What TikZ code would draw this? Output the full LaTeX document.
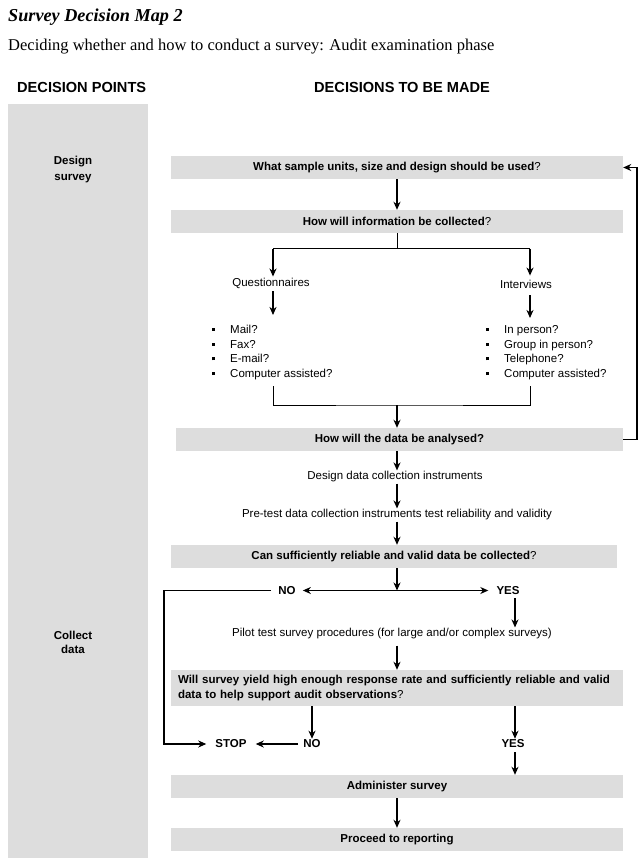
\documentclass[tikz,border=0pt]{standalone}
\usepackage{fontspec}
\setmainfont{Liberation Serif}
\setsansfont{Liberation Sans}
\usetikzlibrary{arrows.meta}
\definecolor{boxgray}{RGB}{221,221,221}
\newcommand{\sqb}{\rule[2.5pt]{3pt}{3pt}}
\newcommand{\bodyfont}{\sffamily\fontsize{11.5}{14}\selectfont}
\tikzset{
 gbox/.style={fill=boxgray, draw=none, minimum height=23pt, inner sep=0pt, font=\bodyfont\bfseries},
 txt/.style={inner sep=1pt, font=\bodyfont},
 lbl/.style={inner sep=1pt, font=\bodyfont\bfseries},
 arr/.style={line width=1.6pt, -{Stealth[length=8pt,width=7pt,inset=2.5pt]}},
 ln/.style={line width=1pt},
 lnarr/.style={line width=1.2pt, -{Stealth[length=8pt,width=7pt,inset=2.5pt]}},
 lnarrb/.style={line width=1.2pt, {Stealth[length=8pt,width=7pt,inset=2.5pt]}-{Stealth[length=8pt,width=7pt,inset=2.5pt]}},
}
\begin{document}
\begin{tikzpicture}[x=1pt,y=-1pt, font=\bodyfont]
\useasboundingbox (0,0) rectangle (639,858);
\fill[boxgray] (8,104) rectangle (148,858);

% titles
\node[anchor=base west, inner sep=0, font=\rmfamily\bfseries\itshape\fontsize{18.2}{20}\selectfont] (title) at (8,22) {Survey Decision Map 2};
\node[anchor=base west, inner sep=0, font=\rmfamily\fontsize{16.5}{18}\selectfont] (sub) at (8,51) {Deciding whether and how to conduct a survey: Audit examination phase};
\node[anchor=base west, inner sep=0, font=\sffamily\bfseries\fontsize{14.6}{16}\selectfont] (hdp) at (17,93) {DECISION POINTS};
\node[anchor=base west, inner sep=0, font=\sffamily\bfseries\fontsize{14.6}{16}\selectfont] (hdm) at (314,93) {DECISIONS TO BE MADE};

% left labels
\node[lbl, align=center, font=\sffamily\bfseries\fontsize{11.5}{16}\selectfont] (ds) at (73,170) {Design\\survey};
\node[lbl, align=center, font=\sffamily\bfseries\fontsize{11.5}{14}\selectfont] (cd) at (73,642) {Collect\\data};

% boxes
\node[gbox, minimum width=452pt] (b1) at (397,167.5) {What sample units, size and design should be used\mdseries?};
\node[gbox, minimum width=452pt] (b2) at (397,221.5) {How will information be collected\mdseries?};
\node[gbox, minimum width=447pt] (b4) at (399.5,439.5) {How will the data be analysed?};
\node[gbox, minimum width=446pt] (b6) at (394,556.5) {Can sufficiently reliable and valid data be collected\mdseries?};
\node[gbox, minimum width=452pt, minimum height=36pt, text width=438pt, align=left, font=\sffamily\bfseries\fontsize{11.5}{15}\selectfont] (b7) at (397,688) {Will survey yield high enough response rate and sufficiently reliable and valid\\data to help support audit observations\mdseries?};
\node[gbox, minimum width=452pt] (b8) at (397,786.5) {Administer survey};
\node[gbox, minimum width=452pt] (b9) at (397,839.5) {Proceed to reporting};

% plain texts
\node[txt] (q) at (271,283) {Questionnaires};
\node[txt] (iv) at (526,284) {Interviews};
\node[anchor=north west, inner sep=0, font=\sffamily\fontsize{11.5}{14.7}\selectfont] (ql) at (212,323)
  {\begin{tabular}{@{}l@{\hspace{15pt}}l@{}}\sqb & Mail?\\ \sqb & Fax?\\ \sqb & E-mail?\\ \sqb & Computer assisted?\end{tabular}};
\node[anchor=north west, inner sep=0, font=\sffamily\fontsize{11.5}{14.7}\selectfont] (il) at (486,323)
  {\begin{tabular}{@{}l@{\hspace{15pt}}l@{}}\sqb & In person?\\ \sqb & Group in person?\\ \sqb & Telephone?\\ \sqb & Computer assisted?\end{tabular}};
\node[txt] (t5) at (395,477) {Design data collection instruments};
\node[txt] (t6) at (397,515) {Pre-test data collection instruments test reliability and validity};
\node[txt] (pilot) at (392,634) {Pilot test survey procedures (for large and/or complex surveys)};
\node[lbl] (no1) at (287,590.5) {NO};
\node[lbl] (yes1) at (508,590.5) {YES};
\node[lbl] (no2) at (312,744) {NO};
\node[lbl] (stop) at (231,744) {STOP};
\node[lbl] (yes2) at (513,744) {YES};

% coordinates
\coordinate (sp1) at (397,249);
\coordinate (qa) at (273,249);
\coordinate (ia) at (530,249);
\coordinate (qe) at (273,386);
\coordinate (ie) at (530,386);
\coordinate (jm) at (397,405);
\coordinate (fb) at (637,439.5);
\coordinate (sp2) at (397,590.5);
\coordinate (c1) at (164,590.5);
\coordinate (ya) at (515,598);
\coordinate (yb) at (515,752);

% connectors
\draw[arr] (b1.south -| sp1) -- (b2.north -| sp1);
\draw[ln] (b2.south -| sp1) -- (sp1);
\draw[ln] (qa) -- (ia);
\draw[arr] (qa) -- (qa |- q.north);
\draw[arr] (ia) -- ([yshift=3pt]ia |- iv.north);
\draw[arr] ([yshift=-2pt]q.south -| qa) -- ([yshift=8pt]qa |- ql.north);
\draw[arr] ([yshift=-6pt]ia |- iv.south) -- ([yshift=5pt]ia |- il.north);
\draw[ln] (qe) |- (jm) -| (ie);
\draw[arr] (jm) -- (jm |- b4.north);
\draw[lnarr] (b4.east) -- (fb) |- (b1.east);
\draw[arr] (jm |- b4.south) -- (jm |- t5.north);
\draw[arr] (jm |- t5.south) -- (jm |- t6.north);
\draw[arr] (jm |- t6.south) -- (jm |- b6.north);
\draw[arr] (sp2 |- b6.south) -- (sp2);
\draw[lnarrb] ([xshift=6pt]no1.east) -- ([xshift=-7pt]yes1.west);
\draw[lnarr] ([xshift=-6pt]no1.west) -- (c1) |- ([xshift=-8pt]stop.west);
\draw[arr] (ya) -- (ya |- pilot.north);
\draw[arr] ([yshift=-5pt]jm |- pilot.south) -- (jm |- b7.north);
\draw[arr] (b7.south -| no2) -- (no2.north);
\draw[lnarr] ([xshift=-4pt]no2.west) -- ([xshift=8pt]stop.east);
\draw[arr] (b7.south -| yb) -- (yb |- yes2.north);
\draw[arr] (yb) -- (yb |- b8.north);
\draw[arr] (b8.south -| sp1) -- (b9.north -| sp1);
\end{tikzpicture}
\end{document}
